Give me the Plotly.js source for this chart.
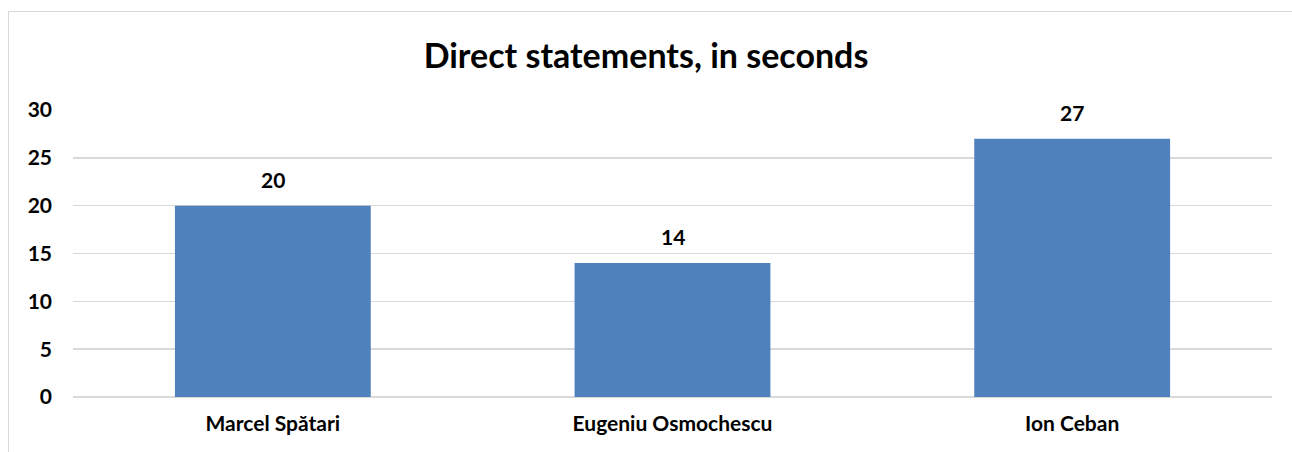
<!DOCTYPE html>
<html>
<head>
<meta charset="utf-8">
<script src="https://cdn.plot.ly/plotly-3.0.1.min.js"></script>
<style>
  body { margin: 0; background: #fff; }
  #frame { position: absolute; left: 8px; top: 11px; width: 1300px; height: 460px; border: 1.5px solid #d9d9d9; }
  #myPlot { position: absolute; left: 0; top: 0; width: 1292px; height: 452px; }
</style>
</head>
<body>
<div id="frame"></div>
<div id="myPlot"></div>
<script>
// Data
var speakers = ["Marcel Spătari", "Eugeniu Osmochescu", "Ion Ceban"];
var seconds = [20, 14, 27];
var yTicks = [0, 5, 10, 15, 20, 25, 30];

var data = [{
  type: "bar",
  x: speakers,
  y: seconds,
  marker: { color: "#4f81bd" },
  hoverinfo: "none"
}];

// value labels above the bars
var labels = [];
for (var k = 0; k < speakers.length; k++) {
  labels.push({
    x: speakers[k], y: seconds[k],
    xref: "x", yref: "y",
    text: "<b>" + seconds[k] + "</b>",
    showarrow: false,
    yanchor: "bottom", yshift: 12,
    font: { family: "Lato, sans-serif", size: 21, color: "#000" }
  });
}

var layout = {
  width: 1292,
  height: 452,
  margin: { l: 73, r: 20, t: 110, b: 55 },
  paper_bgcolor: "rgba(0,0,0,0)",
  plot_bgcolor: "rgba(0,0,0,0)",
  bargap: 0.51,
  showlegend: false,
  annotations: labels,
  title: {
    text: "<b>Direct statements, in seconds</b>",
    font: { family: "Lato, sans-serif", size: 34, color: "#000" },
    x: 0.5, xanchor: "center",
    y: 0.875, yanchor: "middle"
  },
  xaxis: {
    tickfont: { family: "Lato, sans-serif", size: 21, color: "#000" },
    tickprefix: "<b>", ticksuffix: "</b>",
    showgrid: false, zeroline: false, showline: false,
    ticks: "", ticklabelstandoff: 12
  },
  yaxis: {
    range: [0, 30],
    tickvals: yTicks,
    ticktext: yTicks.map(function (v) { return "<b>" + v + "</b>"; }),
    tickfont: { family: "Lato, sans-serif", size: 21, color: "#000" },
    showgrid: true, gridcolor: "#d9d9d9", gridwidth: 1.5,
    zeroline: true, zerolinecolor: "#d9d9d9", zerolinewidth: 1.5,
    showline: false, ticks: "", ticklabelstandoff: 20
  }
};

Plotly.newPlot("myPlot", data, layout, { displayModeBar: false, staticPlot: true });
</script>
</body>
</html>
